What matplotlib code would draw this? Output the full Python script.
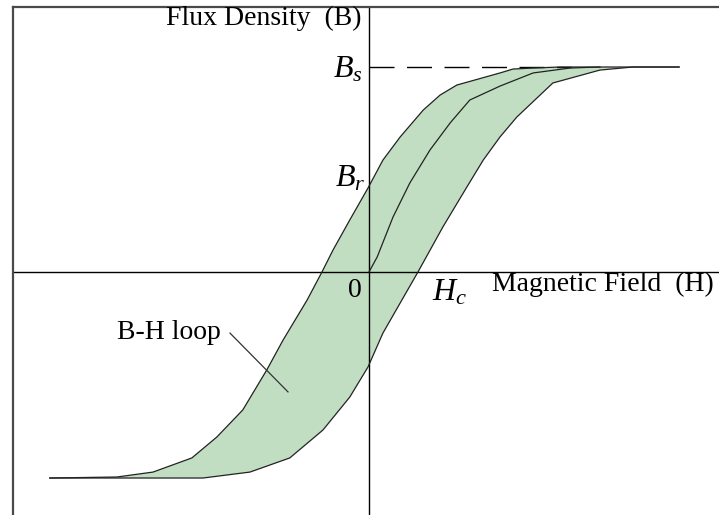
import matplotlib
matplotlib.use("Agg")
import matplotlib.pyplot as plt
import numpy as np

plt.rcParams['font.family'] = ['Liberation Serif', 'DejaVu Serif']
plt.rcParams['mathtext.fontset'] = 'custom'
plt.rcParams['mathtext.rm'] = 'Liberation Serif'
plt.rcParams['mathtext.it'] = 'Liberation Serif:italic'

# Units: H scaled so the coercive field is ~1, B normalised to Bs = 1
# Descending branch (from positive saturation to negative saturation)
upper_H = [6.46, 3.98, 3.42, 3.00, 2.73, 1.83, 1.48, 1.13, 0.65, 0.29, -0.02,
           -0.40, -0.75, -0.98, -1.29, -1.79, -2.13, -2.63, -3.17, -3.69,
           -4.50, -5.25, -6.65]
upper_B = [1.00, 1.00, 0.995, 0.990, 0.971, 0.912, 0.863, 0.790, 0.659, 0.546,
           0.410, 0.254, 0.107, 0.0, -0.137, -0.332, -0.478, -0.673, -0.805,
           -0.907, -0.976, -1.000, -1.005]
# Ascending branch (from negative saturation to positive saturation)
lower_H = [-6.65, -3.46, -2.48, -1.65, -0.96, -0.40, -0.02, 0.29, 0.65, 1.02,
           1.54, 2.04, 2.38, 2.73, 3.08, 3.83, 4.81, 5.50, 6.46]
lower_B = [-1.005, -1.005, -0.976, -0.907, -0.771, -0.610, -0.463, -0.298,
           -0.151, 0.0, 0.220, 0.415, 0.546, 0.659, 0.756, 0.922, 0.985,
           1.00, 1.00]
# Initial magnetisation curve
init_H = [0.0, 0.17, 0.50, 0.85, 1.27, 1.69, 2.10, 2.73, 3.42, 4.19, 4.81]
init_B = [0.0, 0.073, 0.268, 0.434, 0.595, 0.727, 0.839, 0.907, 0.971,
          0.995, 1.00]

B_s = 1.0

fig = plt.figure(figsize=(7.19, 5.15), dpi=100)
ax = fig.add_axes([13/719, 0, 1 - 13/719, (515 - 7)/515])
ax.set_xlim(-7.4167, 7.2917)
ax.set_ylim(-1.1854, 1.2927)
for s in ['right', 'bottom']:
    ax.spines[s].set_visible(False)
for s in ['left', 'top']:
    ax.spines[s].set_color('#4a4a4a')
    ax.spines[s].set_linewidth(1.6)
ax.set_xticks([])
ax.set_yticks([])

# loop fill
poly_H = upper_H + lower_H
poly_B = upper_B + lower_B
ax.fill(poly_H, poly_B, facecolor='#c2dec2', edgecolor='none', zorder=1)

# axes through origin
ax.axhline(0, color='black', lw=1.0, zorder=2)
ax.axvline(0, color='black', lw=1.0, zorder=2)

# dashed saturation level
ax.plot([0, 4.2], [B_s, B_s], color='black', lw=1.0, dashes=(18, 9), zorder=2)

ax.plot(upper_H, upper_B, color='#222222', lw=0.9, zorder=3)
ax.plot(lower_H, lower_B, color='#222222', lw=0.9, zorder=3)
ax.plot(init_H, init_B, color='#222222', lw=0.9, zorder=3)

fs = 20
ax.text(-0.15, 1.239, 'Flux Density  (B)', ha='right', va='center', fontsize=fs)
ax.text(2.56, -0.063, 'Magnetic Field  (H)', ha='left', va='center', fontsize=fs)
ax.text(-0.29, -0.09, '0', ha='center', va='center', fontsize=fs)

ifs = 23
ax.text(-0.125, 0.951, r'$B_s$', ha='right', va='baseline', fontsize=ifs)
ax.text(-0.083, 0.415, r'$B_r$', ha='right', va='baseline', fontsize=ifs)
ax.text(1.3125, -0.137, r'$H_c$', ha='left', va='baseline', fontsize=ifs)

ax.text(-5.25, -0.293, 'B-H loop', ha='left', va='center', fontsize=fs)
ax.plot([-2.896, -1.6875], [-0.298, -0.585], color='#333333', lw=0.9, zorder=4)

fig.savefig('out.png', dpi=100)
